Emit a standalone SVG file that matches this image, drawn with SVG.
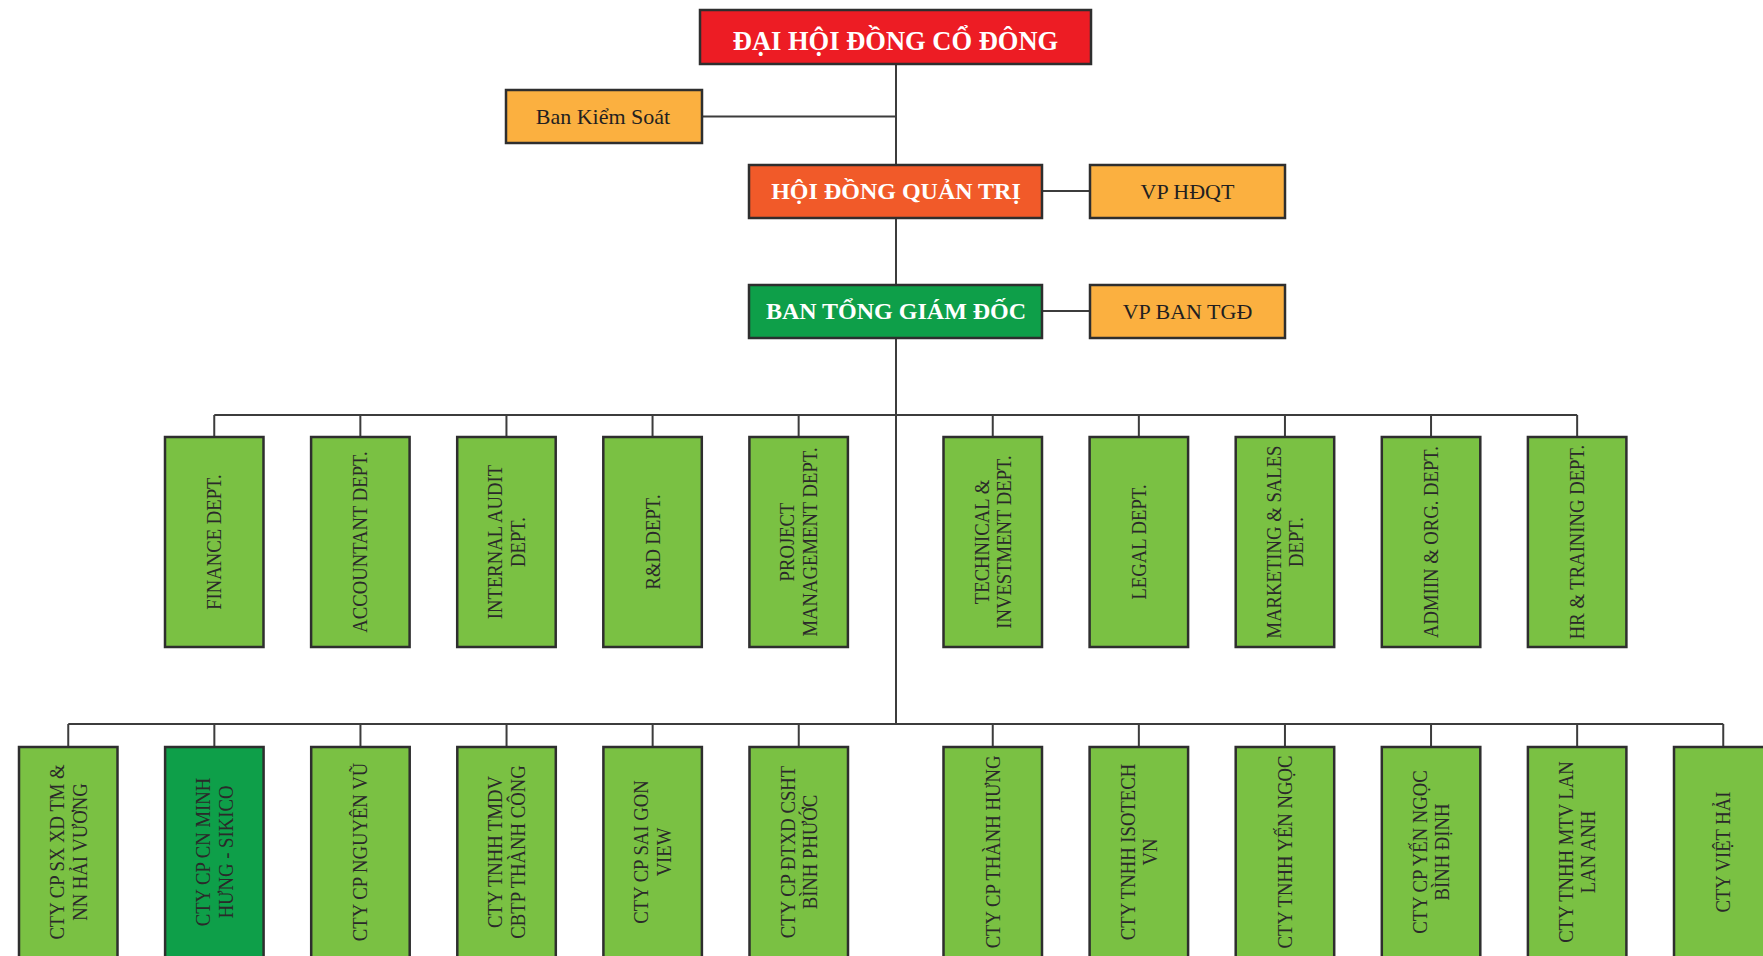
<svg xmlns="http://www.w3.org/2000/svg" width="1763" height="956" viewBox="0 0 1763 956">
<style>
  .box { stroke: #2e2e2e; stroke-width: 2.5; }
  .red { fill: #ED1C24; }
  .orr { fill: #F15A29; }
  .dg { fill: #0E9F49; }
  .org { fill: #FBB040; }
  .lg { fill: #7AC143; }
  .conn { stroke: #3c3c3c; stroke-width: 2; fill: none; }
  .tw { font-family: "Liberation Serif", "Times New Roman", serif; font-weight: bold; fill: #ffffff; text-anchor: middle; }
  .td { font-family: "Liberation Serif", "Times New Roman", serif; fill: #231F20; text-anchor: middle; font-size: 22px; }
  .v { font-family: "Liberation Serif", "Times New Roman", serif; fill: #2a2a2a; text-anchor: middle; font-size: 21px; }
</style>
<rect width="1763" height="956" fill="#ffffff"/>
<g id="connectors">
  <path class="conn" d="M896 64 V724"/>
  <path class="conn" d="M702 116.5 H896"/>
  <path class="conn" d="M1042 191 H1090"/>
  <path class="conn" d="M1042 311 H1090"/>
  <path class="conn" d="M214.25 415 H1577.15"/>
  <path class="conn" d="M214.25 415 V437 M360.35 415 V437 M506.45 415 V437 M652.55 415 V437 M798.65 415 V437 M992.75 415 V437 M1138.85 415 V437 M1284.95 415 V437 M1431.05 415 V437 M1577.15 415 V437"/>
  <path class="conn" d="M68.25 724 H1723.25"/>
  <path class="conn" d="M68.25 724 V747 M214.35 724 V747 M360.45 724 V747 M506.55 724 V747 M652.65 724 V747 M798.75 724 V747 M992.75 724 V747 M1138.85 724 V747 M1284.95 724 V747 M1431.05 724 V747 M1577.15 724 V747 M1723.25 724 V747"/>
</g>
<g id="dhdcd">
  <rect class="box red" x="700" y="10" width="391" height="54"/>
  <text class="tw" x="895.5" y="50" font-size="26.5">ĐẠI HỘI ĐỒNG CỔ ĐÔNG</text>
</g>
<g id="bks">
  <rect class="box org" x="506" y="90" width="196" height="53"/>
  <text class="td" x="603" y="123.5" font-size="22.5">Ban Kiểm Soát</text>
</g>
<g id="hdqt">
  <rect class="box orr" x="749" y="165" width="293" height="53"/>
  <text class="tw" x="896" y="198.5" font-size="24">HỘI ĐỒNG QUẢN TRỊ</text>
</g>
<g id="vphdqt">
  <rect class="box org" x="1090" y="165" width="195" height="53"/>
  <text class="td" x="1187.5" y="199">VP HĐQT</text>
</g>
<g id="btgd">
  <rect class="box dg" x="749" y="285" width="293" height="53"/>
  <text class="tw" x="896" y="318.5" font-size="24">BAN TỔNG GIÁM ĐỐC</text>
</g>
<g id="vpbtgd">
  <rect class="box org" x="1090" y="285" width="195" height="53"/>
  <text class="td" x="1187.5" y="319">VP BAN TGĐ</text>
</g>

<g id="d1"><rect class="box lg" x="165" y="437" width="98.5" height="210"/>
  <text class="v" transform="translate(214.25,542) rotate(-90) scale(0.89,1)"><tspan x="0" y="7">FINANCE DEPT.</tspan></text></g>
<g id="d2"><rect class="box lg" x="311.1" y="437" width="98.5" height="210"/>
  <text class="v" transform="translate(360.35,542) rotate(-90) scale(0.89,1)"><tspan x="0" y="7">ACCOUNTANT DEPT.</tspan></text></g>
<g id="d3"><rect class="box lg" x="457.2" y="437" width="98.5" height="210"/>
  <text class="v" transform="translate(506.45,542) rotate(-90) scale(0.89,1)"><tspan x="0" y="-4.25">INTERNAL AUDIT</tspan><tspan x="0" y="18.25">DEPT.</tspan></text></g>
<g id="d4"><rect class="box lg" x="603.3" y="437" width="98.5" height="210"/>
  <text class="v" transform="translate(652.55,542) rotate(-90) scale(0.89,1)"><tspan x="0" y="7">R&amp;D DEPT.</tspan></text></g>
<g id="d5"><rect class="box lg" x="749.4" y="437" width="98.5" height="210"/>
  <text class="v" transform="translate(798.65,542) rotate(-90) scale(0.89,1)"><tspan x="0" y="-4.25">PROJECT</tspan><tspan x="0" y="18.25">MANAGEMENT DEPT.</tspan></text></g>
<g id="d6"><rect class="box lg" x="943.5" y="437" width="98.5" height="210"/>
  <text class="v" transform="translate(992.75,542) rotate(-90) scale(0.89,1)"><tspan x="0" y="-4.25">TECHNICAL &amp;</tspan><tspan x="0" y="18.25">INVESTMENT DEPT.</tspan></text></g>
<g id="d7"><rect class="box lg" x="1089.6" y="437" width="98.5" height="210"/>
  <text class="v" transform="translate(1138.85,542) rotate(-90) scale(0.89,1)"><tspan x="0" y="7">LEGAL DEPT.</tspan></text></g>
<g id="d8"><rect class="box lg" x="1235.7" y="437" width="98.5" height="210"/>
  <text class="v" transform="translate(1284.95,542) rotate(-90) scale(0.89,1)"><tspan x="0" y="-4.25">MARKETING &amp; SALES</tspan><tspan x="0" y="18.25">DEPT.</tspan></text></g>
<g id="d9"><rect class="box lg" x="1381.8" y="437" width="98.5" height="210"/>
  <text class="v" transform="translate(1431.05,542) rotate(-90) scale(0.89,1)"><tspan x="0" y="7">ADMIIN &amp; ORG. DEPT.</tspan></text></g>
<g id="d10"><rect class="box lg" x="1527.9" y="437" width="98.5" height="210"/>
  <text class="v" transform="translate(1577.15,542) rotate(-90) scale(0.89,1)"><tspan x="0" y="7">HR &amp; TRAINING DEPT.</tspan></text></g>

<g id="s1"><rect class="box lg" x="19" y="747" width="98.5" height="212"/>
  <text class="v" transform="translate(68.25,852) rotate(-90) scale(0.89,1)"><tspan x="0" y="-4.25">CTY CP SX XD TM &amp;</tspan><tspan x="0" y="18.25">NN HẢI VƯƠNG</tspan></text></g>
<g id="s2"><rect class="box dg" x="165.1" y="747" width="98.5" height="212"/>
  <text class="v" transform="translate(214.35,852) rotate(-90) scale(0.89,1)"><tspan x="0" y="-4.25">CTY CP CN MINH</tspan><tspan x="0" y="18.25">HƯNG - SIKICO</tspan></text></g>
<g id="s3"><rect class="box lg" x="311.2" y="747" width="98.5" height="212"/>
  <text class="v" transform="translate(360.45,852) rotate(-90) scale(0.89,1)"><tspan x="0" y="7">CTY CP NGUYÊN VŨ</tspan></text></g>
<g id="s4"><rect class="box lg" x="457.3" y="747" width="98.5" height="212"/>
  <text class="v" transform="translate(506.55,852) rotate(-90) scale(0.89,1)"><tspan x="0" y="-4.25">CTY TNHH TMDV</tspan><tspan x="0" y="18.25">CBTP THÀNH CÔNG</tspan></text></g>
<g id="s5"><rect class="box lg" x="603.4" y="747" width="98.5" height="212"/>
  <text class="v" transform="translate(652.65,852) rotate(-90) scale(0.89,1)"><tspan x="0" y="-4.25">CTY CP SAI GON</tspan><tspan x="0" y="18.25">VIEW</tspan></text></g>
<g id="s6"><rect class="box lg" x="749.5" y="747" width="98.5" height="212"/>
  <text class="v" transform="translate(798.75,852) rotate(-90) scale(0.89,1)"><tspan x="0" y="-4.25">CTY CP ĐTXD CSHT</tspan><tspan x="0" y="18.25">BÌNH PHƯỚC</tspan></text></g>
<g id="s7"><rect class="box lg" x="943.5" y="747" width="98.5" height="212"/>
  <text class="v" transform="translate(992.75,852) rotate(-90) scale(0.89,1)"><tspan x="0" y="7">CTY CP THÀNH HƯNG</tspan></text></g>
<g id="s8"><rect class="box lg" x="1089.6" y="747" width="98.5" height="212"/>
  <text class="v" transform="translate(1138.85,852) rotate(-90) scale(0.89,1)"><tspan x="0" y="-4.25">CTY TNHH ISOTECH</tspan><tspan x="0" y="18.25">VN</tspan></text></g>
<g id="s9"><rect class="box lg" x="1235.7" y="747" width="98.5" height="212"/>
  <text class="v" transform="translate(1284.95,852) rotate(-90) scale(0.89,1)"><tspan x="0" y="7">CTY TNHH YẾN NGỌC</tspan></text></g>
<g id="s10"><rect class="box lg" x="1381.8" y="747" width="98.5" height="212"/>
  <text class="v" transform="translate(1431.05,852) rotate(-90) scale(0.89,1)"><tspan x="0" y="-4.25">CTY CP YẾN NGỌC</tspan><tspan x="0" y="18.25">BÌNH ĐỊNH</tspan></text></g>
<g id="s11"><rect class="box lg" x="1527.9" y="747" width="98.5" height="212"/>
  <text class="v" transform="translate(1577.15,852) rotate(-90) scale(0.89,1)"><tspan x="0" y="-4.25">CTY TNHH MTV LAN</tspan><tspan x="0" y="18.25">LAN ANH</tspan></text></g>
<g id="s12"><rect class="box lg" x="1674" y="747" width="98.5" height="212"/>
  <text class="v" transform="translate(1723.25,852) rotate(-90) scale(0.89,1)"><tspan x="0" y="7">CTY VIỆT HẢI</tspan></text></g>
</svg>
